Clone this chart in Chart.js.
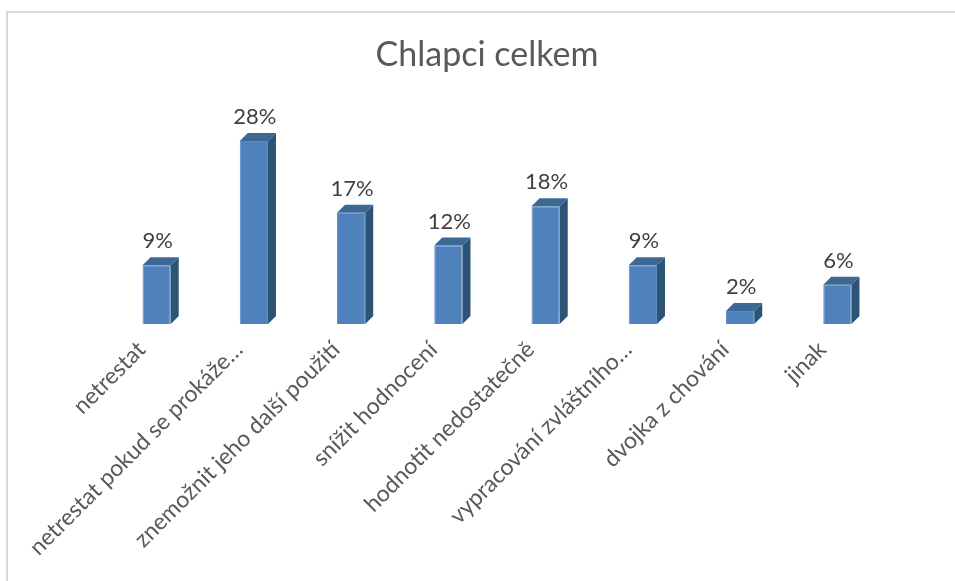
<!DOCTYPE html>
<html>
<head>
<meta charset="utf-8">
<script src="https://cdn.jsdelivr.net/npm/chart.js@4"></script>
<style>
    body { margin: 0; background: #fff; overflow: hidden; }
    #frame { position: absolute; left: 6px; top: 11px; width: 1200px; height: 800px;
             border-left: 2px solid #d9d9d9; border-top: 2px solid #d9d9d9; }
    #chart { position: absolute; left: 0; top: 0; }
</style>
</head>
<body>
<div id="frame"></div>
<canvas id="chart" width="955" height="581"></canvas>
<script>
// Chart data
const categories = [
    'netrestat',
    'netrestat pokud se prokáže…',
    'znemožnit jeho další použití',
    'snížit hodnocení',
    'hodnotit nedostatečně',
    'vypracování zvláštního…',
    'dvojka z chování',
    'jinak'
];
const values = [9, 28, 17, 12, 18, 9, 2, 6];
const chartTitle = 'Chlapci celkem';

// 3D look for the bars: top face + right side face, then value labels
const bars3d = {
    id: 'bars3d',
    afterDatasetsDraw(chart) {
        const ctx = chart.ctx;
        const meta = chart.getDatasetMeta(0);
        const d = 8;
        ctx.save();
        meta.data.forEach((bar, i) => {
            const p = bar.getProps(['x', 'y', 'base', 'width'], true);
            const left = p.x - p.width / 2;
            const right = p.x + p.width / 2;

            // top face
            ctx.fillStyle = '#3b6994';
            ctx.beginPath();
            ctx.moveTo(left, p.y);
            ctx.lineTo(left + d, p.y - d);
            ctx.lineTo(right + d, p.y - d);
            ctx.lineTo(right, p.y);
            ctx.closePath();
            ctx.fill();

            // side face
            ctx.fillStyle = '#2e5475';
            ctx.beginPath();
            ctx.moveTo(right, p.y);
            ctx.lineTo(right + d, p.y - d);
            ctx.lineTo(right + d, p.base - d);
            ctx.lineTo(right, p.base);
            ctx.closePath();
            ctx.fill();

            // value label
            ctx.fillStyle = '#404040';
            ctx.font = '22px Lato';
            ctx.textAlign = 'center';
            ctx.textBaseline = 'bottom';
            ctx.fillText(values[i] + '%', p.x + 1, p.y - 13);
        });
        ctx.restore();
    }
};

new Chart(document.getElementById('chart'), {
    type: 'bar',
    data: {
        labels: categories,
        datasets: [{
            data: values,
            backgroundColor: '#4f81bd',
            borderColor: '#5a8cc8',
            borderWidth: 1,
            barPercentage: 0.29,
            categoryPercentage: 1
        }]
    },
    options: {
        responsive: false,
        animation: false,
        layout: {
            padding: { top: 35, left: 88, right: 69, bottom: 0 }
        },
        plugins: {
            legend: { display: false },
            tooltip: { enabled: false },
            title: {
                display: true,
                text: chartTitle,
                color: '#595959',
                font: { family: 'Lato', size: 34, weight: 'normal', lineHeight: 1.2 },
                padding: { top: 0, bottom: 52 }
            }
        },
        scales: {
            x: {
                grid: { display: false, drawTicks: false },
                border: { display: false },
                ticks: {
                    color: '#595959',
                    font: { family: 'Lato', size: 23 },
                    minRotation: 45,
                    maxRotation: 45,
                    autoSkip: false,
                    padding: 12,
                    labelOffset: -15
                },
                afterFit: function(scale) {
                    scale.height = 257;
                }
            },
            y: {
                min: 0,
                max: 30,
                grid: { display: false, drawTicks: false },
                border: { display: false },
                ticks: { display: false },
                afterFit: function(scale) {
                    scale.width = 20;
                }
            }
        }
    },
    plugins: [bars3d]
});
</script>
</body>
</html>
